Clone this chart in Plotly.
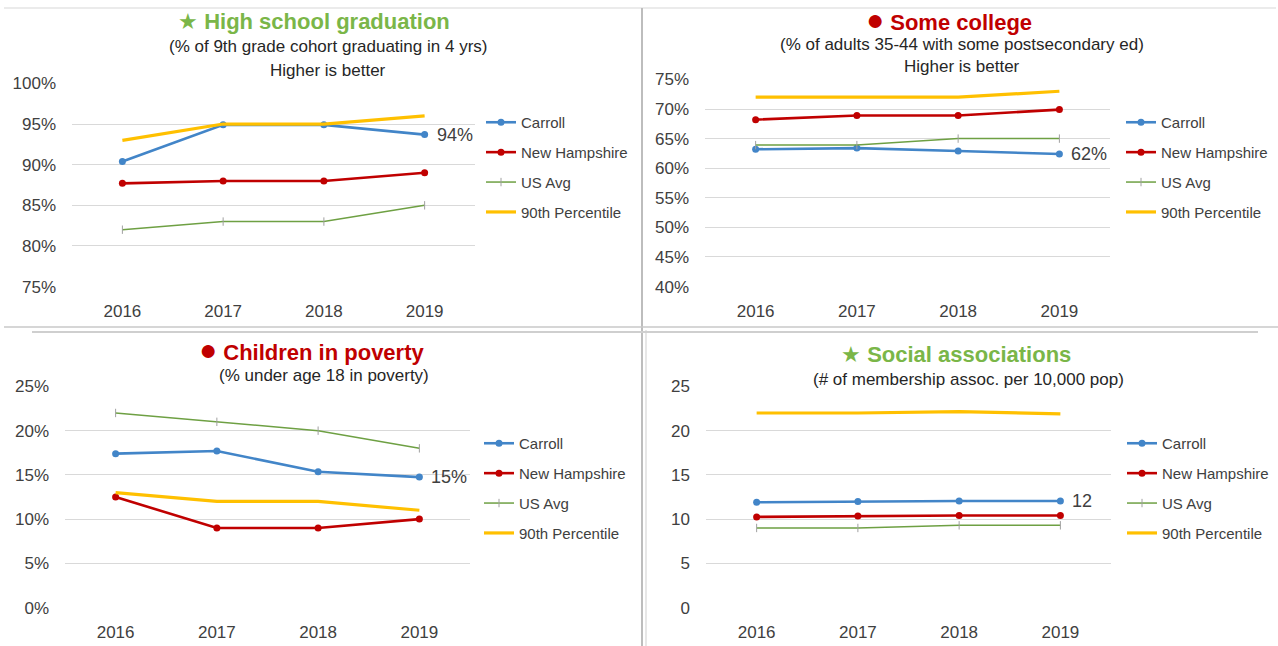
import plotly.graph_objects as go

W, H = 1278, 646

years = ["2016", "2017", "2018", "2019"]
series_names = ["Carroll", "New Hampshire", "US Avg", "90th Percentile"]

# Panel 1: High school graduation (%)
grad_carroll = [90.4, 94.9, 94.9, 93.7]
grad_nh = [87.7, 88.0, 88.0, 89.0]
grad_us = [82.0, 83.0, 83.0, 85.0]
grad_p90 = [93.0, 95.0, 95.0, 96.0]

# Panel 2: Some college (%)
col_carroll = [63.2, 63.4, 62.9, 62.4]
col_nh = [68.2, 68.9, 68.9, 69.9]
col_us = [63.9, 63.9, 65.0, 65.0]
col_p90 = [72.0, 72.0, 72.0, 73.0]

# Panel 3: Children in poverty (%)
pov_carroll = [17.4, 17.7, 15.35, 14.75]
pov_nh = [12.5, 9.0, 9.0, 10.0]
pov_us = [22.0, 21.0, 20.0, 18.0]
pov_p90 = [13.0, 12.0, 12.0, 11.0]

# Panel 4: Social associations (per 10,000)
soc_carroll = [11.9, 12.0, 12.05, 12.05]
soc_nh = [10.25, 10.35, 10.4, 10.4]
soc_us = [9.0, 9.0, 9.3, 9.3]
soc_p90 = [22.0, 22.0, 22.15, 21.9]

titles = [
    ("★", "High school graduation", "#7AB648"),
    ("●", "Some college", "#C00000"),
    ("●", "Children in poverty", "#C00000"),
    ("★", "Social associations", "#7AB648"),
]
subtitles = [
    ["(% of 9th grade cohort graduating in 4 yrs)", "Higher is better"],
    ["(% of adults 35-44 with some postsecondary ed)", "Higher is better"],
    ["(% under age 18 in poverty)"],
    ["(# of membership assoc. per 10,000 pop)"],
]
y_ranges = [(75, 100), (40, 75), (0, 25), (0, 25)]
y_suffix = ["%", "%", "%", ""]

panels_data = [
    [grad_carroll, grad_nh, grad_us, grad_p90],
    [col_carroll, col_nh, col_us, col_p90],
    [pov_carroll, pov_nh, pov_us, pov_p90],
    [soc_carroll, soc_nh, soc_us, soc_p90],
]

# ---- layout geometry (pixels) ----
plot_px = [  # x0, x1, ytop, ybottom
    (72, 475, 83, 287),
    (705, 1110, 79, 287),
    (65, 470, 386, 608),
    (706, 1111, 386, 608),
]
title_px = [(314, 22), (949, 19), (311, 349), (956, 354)]
sub_px = [[(328, 47), (328, 70)], [(962, 44), (962, 67)], [(324, 375)], [(969, 379)]]
legend_px = [(481, 106), (1121, 106), (479, 427), (1122, 427)]

colors = ["#4285C8", "#C00000", "#6EA043", "#FFC000"]
widths = [2.6, 2.6, 1.5, 3.2]
TXT = "#404040"
FONT = "Liberation Sans, Arial, sans-serif"

def px2x(x):
    return x / W

def px2y(y):
    return 1 - y / H

fig = go.Figure()
annotations = []
layout_axes = {}

for i in range(4):
    xa = "x" if i == 0 else f"x{i+1}"
    ya = "y" if i == 0 else f"y{i+1}"
    lg = "legend" if i == 0 else f"legend{i+1}"
    x0, x1, yt, yb = plot_px[i]
    lo, hi = y_ranges[i]
    eps = (hi - lo) * 0.002
    for s in range(4):
        mode = "lines+markers" if s < 3 else "lines"
        if s < 2:
            marker = dict(symbol="circle", size=7, color=colors[s])
        else:
            marker = dict(symbol="line-ns", size=6, color="#A0A0A0",
                          line=dict(width=1, color="#A0A0A0"))
        fig.add_trace(go.Scatter(
            x=years, y=panels_data[i][s], name=series_names[s],
            mode=mode, line=dict(color=colors[s], width=widths[s]),
            marker=marker, xaxis=xa, yaxis=ya, legend=lg,
            legendgroup=f"p{i}s{s}", showlegend=True,
        ))
    layout_axes["xaxis" if i == 0 else f"xaxis{i+1}"] = dict(
        domain=[px2x(x0), px2x(x1)], anchor=ya, type="category",
        range=[-0.5, 3.5], showgrid=False, showline=False, zeroline=False,
        ticks="", tickfont=dict(size=17, color=TXT, family=FONT),
        ticklabelstandoff=12, fixedrange=True, automargin=False,
    )
    layout_axes["yaxis" if i == 0 else f"yaxis{i+1}"] = dict(
        domain=[px2y(yb), px2y(yt)], anchor=xa,
        range=[lo - eps, hi + eps], dtick=5, tick0=0,
        ticksuffix=y_suffix[i], showgrid=True, gridcolor="#D9D9D9",
        gridwidth=1, zeroline=False, showline=False, ticks="",
        tickfont=dict(size=17, color=TXT, family=FONT),
        ticklabelstandoff=15, fixedrange=True, automargin=False,
    )
    lx, ly = legend_px[i]
    layout_axes[lg] = dict(
        x=px2x(lx), y=px2y(ly), xanchor="left", yanchor="top",
        font=dict(size=15, color=TXT, family=FONT),
        bgcolor="rgba(0,0,0,0)", itemwidth=30, tracegroupgap=7.4,
        traceorder="grouped",
    )
    sym, ttl, tcol = titles[i]
    sym_size = 22 if sym == "★" else 30
    tx, ty = title_px[i]
    annotations.append(dict(
        xref="paper", yref="paper", x=px2x(tx), y=px2y(ty),
        xanchor="center", yanchor="middle", showarrow=False,
        text=f"<span style='font-size:{sym_size}px'>{sym}</span> <b>{ttl}</b>",
        font=dict(size=22, color=tcol, family=FONT),
    ))
    for (sx, sy), st in zip(sub_px[i], subtitles[i]):
        annotations.append(dict(
            xref="paper", yref="paper", x=px2x(sx), y=px2y(sy),
            xanchor="center", yanchor="middle", showarrow=False,
            text=st, font=dict(size=17, color="#262626", family=FONT),
        ))
    last = panels_data[i][0][-1]
    annotations.append(dict(
        xref=xa, yref=ya, x=len(years) - 1, y=last,
        xanchor="left", yanchor="middle", xshift=10, showarrow=False,
        text=f"{round(last)}{y_suffix[i]}",
        font=dict(size=18, color=TXT, family=FONT),
    ))

shapes = [
    dict(type="line", xref="paper", yref="paper", x0=px2x(4), x1=px2x(1276),
         y0=px2y(8), y1=px2y(8), line=dict(color="#E4E4E4", width=1.5)),
    dict(type="line", xref="paper", yref="paper", x0=px2x(642), x1=px2x(642),
         y0=px2y(8), y1=px2y(646), line=dict(color="#BDBDBD", width=2)),
    dict(type="line", xref="paper", yref="paper", x0=px2x(646), x1=px2x(646),
         y0=px2y(330), y1=px2y(646), line=dict(color="#CFCFCF", width=1)),
    dict(type="line", xref="paper", yref="paper", x0=px2x(4), x1=px2x(1278),
         y0=px2y(327), y1=px2y(327), line=dict(color="#C8C8C8", width=1.5)),
    dict(type="line", xref="paper", yref="paper", x0=px2x(32), x1=px2x(1258),
         y0=px2y(332), y1=px2y(332), line=dict(color="#CFCFCF", width=2)),
]

fig.update_layout(
    width=W, height=H, margin=dict(l=0, r=0, t=0, b=0, autoexpand=False),
    paper_bgcolor="white", plot_bgcolor="white",
    font=dict(family=FONT, color=TXT),
    annotations=annotations, shapes=shapes,
    **layout_axes,
)

fig.write_html(
    "out.html",
    config={"displayModeBar": False},
    post_script="document.body.style.margin='0';document.body.style.overflow='hidden';",
)
